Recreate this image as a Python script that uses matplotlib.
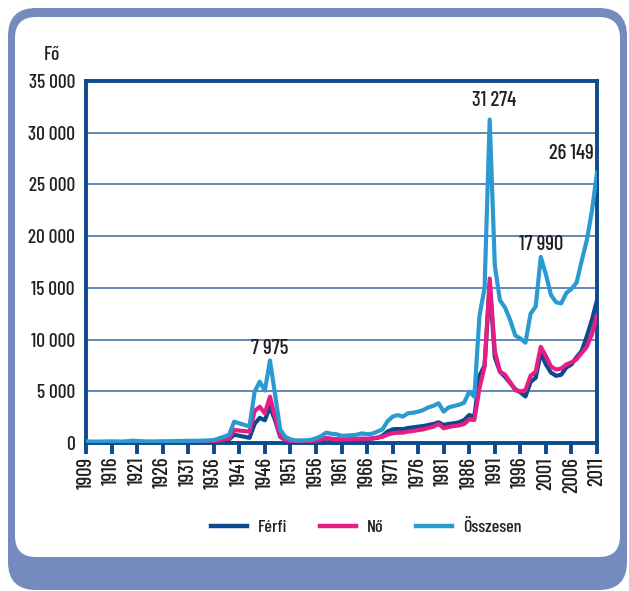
import matplotlib
matplotlib.use("Agg")
import matplotlib.pyplot as plt
from matplotlib.patches import FancyBboxPatch
from matplotlib.lines import Line2D

# ---------------- data ----------------
years = [1909, 1910, 1911, 1912, 1913] + list(range(1916, 2012))

osszesen = [150, 140, 130, 140, 150,
            160, 150, 140, 170, 220, 200, 170, 150, 150, 160,
            170, 170, 180, 190, 200, 210, 210, 220, 230, 250,
            280, 450, 600, 800, 2060, 1900, 1750, 1600, 4960, 5930,
            5070, 7975, 4700, 1300, 600, 350, 250, 250, 260, 300,
            450, 650, 1000, 900, 850, 700, 720, 750, 800, 930,
            850, 900, 1100, 1300, 2100, 2550, 2700, 2550, 2870, 2930,
            3030, 3190, 3450, 3600, 3840, 3030, 3450, 3580, 3700, 3900,
            4960, 4480, 12300, 15000, 31274, 17200, 13800, 13100, 11900, 10400,
            10100, 9700, 12500, 13200, 17990, 16300, 14300, 13600, 13500, 14500,
            14900, 15500, 17600, 19600, 22400, 26149]

no = [70, 70, 60, 70, 70,
      80, 70, 70, 80, 110, 100, 90, 80, 80, 80,
      90, 90, 90, 100, 100, 110, 110, 110, 120, 130,
      150, 250, 340, 450, 1260, 1200, 1150, 1100, 3100, 3500,
      2870, 4480, 2500, 700, 300, 180, 130, 130, 140, 160,
      250, 350, 480, 420, 350, 330, 340, 360, 380, 420,
      400, 450, 520, 600, 800, 950, 1000, 1000, 1100, 1160,
      1250, 1320, 1450, 1580, 1840, 1420, 1550, 1640, 1700, 1840,
      2290, 2220, 5300, 7400, 15900, 8900, 6900, 6600, 5900, 5100,
      5000, 5100, 6500, 6900, 9300, 8400, 7400, 7100, 7200, 7600,
      7800, 8100, 8700, 9300, 10500, 12350]

ferfi = [80, 70, 70, 70, 80,
         80, 80, 70, 90, 110, 100, 80, 70, 70, 80,
         80, 80, 90, 90, 100, 100, 100, 110, 110, 120,
         130, 200, 260, 350, 800, 700, 600, 500, 1860, 2430,
         2200, 3495, 2200, 600, 300, 170, 120, 120, 120, 140,
         200, 300, 420, 380, 350, 300, 320, 330, 360, 400,
         380, 430, 500, 700, 1100, 1320, 1350, 1330, 1450, 1510,
         1580, 1640, 1740, 1840, 2000, 1740, 1850, 1900, 2000, 2220,
         2700, 2550, 6500, 7500, 15374, 8300, 6900, 6400, 5800, 5200,
         4900, 4500, 5900, 6300, 8690, 7600, 6800, 6500, 6600, 7300,
         7600, 8300, 8900, 10300, 11900, 13800]

tick_years = [1909, 1916, 1921, 1926, 1931, 1936, 1941, 1946, 1951, 1956, 1961,
              1966, 1971, 1976, 1981, 1986, 1991, 1996, 2001, 2006, 2011]
yticks = [0, 5000, 10000, 15000, 20000, 25000, 30000, 35000]
ytick_labels = ["0", "5 000", "10 000", "15 000", "20 000", "25 000", "30 000", "35 000"]
peak_labels = {1947: "7 975", 1990: "31 274", 2000: "17 990", 2011: "26 149"}
series_names = ["Férfi", "Nő", "Összesen"]

# ---------------- style ----------------
NARROW = ["Barlow Condensed", "PT Sans Narrow", "DejaVu Sans"]
WEIGHT = 500
C_FERFI = "#0B4A8C"
C_NO = "#E61E83"
C_OSSZ = "#2A9AD0"
C_FRAME = "#768BBD"
C_AXIS = "#0B4A8C"
C_GRID = "#4674A5"
C_TEXT = "#231F20"

W, H = 629, 591
fig = plt.figure(figsize=(W / 100, H / 100), dpi=100)
fig.patch.set_facecolor("white")

# rounded frame (display pixel coordinates)
outer = FancyBboxPatch((8, 1), 619, 582, boxstyle="round,pad=0,rounding_size=28",
                       transform=None, facecolor=C_FRAME, edgecolor="none", zorder=0)
inner = FancyBboxPatch((15, 34), 605, 540, boxstyle="round,pad=0,rounding_size=21",
                       transform=None, facecolor="white", edgecolor="none", zorder=1)
fig.patches.extend([outer, inner])

ax = fig.add_axes([86 / W, (H - 443) / H, (597 - 86) / W, (443 - 81) / H])
ax.set_facecolor("none")
ax.set_zorder(2)

x = list(range(len(years)))
lw = 3.0
ax.plot(x, ferfi, color=C_FERFI, lw=lw, solid_joinstyle="round", zorder=3)
ax.plot(x, no, color=C_NO, lw=lw, solid_joinstyle="round", zorder=4)
ax.plot(x, osszesen, color=C_OSSZ, lw=lw, solid_joinstyle="round", zorder=5)

ax.set_xlim(0, len(years) - 1)
ax.set_ylim(0, 35000)

ax.set_yticks(yticks)
ax.set_yticklabels(ytick_labels, family=NARROW, fontsize=14, fontweight=WEIGHT, color=C_TEXT)
ax.tick_params(axis="y", length=0, pad=8)

xt = [years.index(yv) for yv in tick_years]
ax.set_xticks(xt)
ax.set_xticklabels([str(v) for v in tick_years], rotation=90, family=NARROW,
                   fontsize=15, fontweight=WEIGHT, color=C_TEXT)
ax.tick_params(axis="x", length=8, width=2.8, color=C_AXIS, pad=2, direction="out")

ax.grid(axis="y", color=C_GRID, lw=1.2)
ax.set_axisbelow(True)
for s in ax.spines.values():
    s.set_color(C_AXIS)
    s.set_linewidth(2.8)

# peak labels
offsets = {1947: (0, 2, "center"), 1990: (3, 7, "center"), 2000: (0, 2, "center"),
           2011: (-2, 7, "right")}
for yr, lab in peak_labels.items():
    i = years.index(yr)
    dx, dy, ha = offsets[yr]
    ax.annotate(lab, (i, osszesen[i]), xytext=(dx, dy), textcoords="offset points",
                ha=ha, va="bottom", family=NARROW, fontsize=15, fontweight=WEIGHT,
                color=C_TEXT, annotation_clip=False)

fig.text(52 / W, (H - 55) / H, "Fő", family=NARROW, fontsize=14, fontweight=WEIGHT,
         color=C_TEXT, ha="center", va="center")

handles = [Line2D([], [], color=c, lw=3.2) for c in (C_FERFI, C_NO, C_OSSZ)]
leg = fig.legend(handles, series_names, loc="center", bbox_to_anchor=(366 / W, (H - 527) / H),
                 ncol=3, frameon=False, handlelength=2.0, handletextpad=0.6,
                 columnspacing=1.8, prop={"family": NARROW, "size": 13, "weight": WEIGHT})
for t in leg.get_texts():
    t.set_color(C_TEXT)

fig.savefig("out.png", dpi=100, facecolor="white")
